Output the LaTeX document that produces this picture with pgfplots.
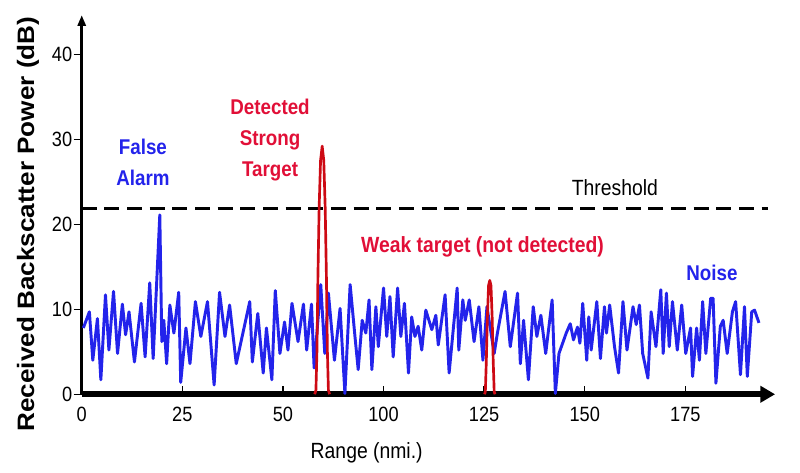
\documentclass[border=0pt]{standalone}
\usepackage{fontspec}
\setmainfont{Liberation Sans}[FakeStretch=0.88]
\newfontfamily\widefont{Liberation Sans}[FakeStretch=1.1]
\usepackage{pgfplots}
\pgfplotsset{compat=1.18}
\usetikzlibrary{arrows.meta}

\definecolor{noiseblue}{RGB}{35,35,235}
\definecolor{targetred}{RGB}{205,10,20}
\definecolor{textred}{RGB}{225,15,55}

\begin{document}
\begin{tikzpicture}
\begin{axis}[
    x=3.018pt, y=6.375pt,
    xmin=0, xmax=172.3,
    ymin=0, ymax=44.6,
    axis x line=bottom,
    axis y line=left,
    clip=false,
    x axis line style={line width=4.5pt, -{Triangle[length=11pt,width=12pt]}},
    y axis line style={line width=2.3pt, -{Triangle[length=8pt,width=6pt]}},
    tick align=outside,
    major tick length=6pt,
    major y tick style={line width=1pt, black},
    major x tick style={line width=1pt, black, yshift=6pt},
    xtick={0,25,50,75,100,125,150},
    xticklabels={0,25,50,100,125,150,175},
    ytick={0,10,20,30,40},
    /pgf/number format/assume math mode=true,
    ticklabel style={font=\fontsize{15.5}{18}\selectfont},
    yticklabel style={inner xsep=1pt},
    xlabel={Range (nmi.)},
    ylabel={Received Backscatter Power (dB)},
    every axis x label/.style={at={(axis description cs:0.411,-0.155)}, anchor=center,
      font=\fontsize{16.5}{20}\selectfont},
    every axis y label/.style={at={(axis description cs:-0.0775,0.449)}, anchor=center, rotate=90,
      font=\widefont\fontsize{17.8}{20}\selectfont\bfseries},
  ]
  % noise
  \addplot[noiseblue, line width=2.2pt, line join=round] coordinates {
    (0.4,7.8) (1.9,9.7) (2.75,4.0) (3.9,8.9) (4.75,1.7) (5.9,11.7) (6.75,5.2)
    (7.9,12.1) (8.9,4.8) (10.1,10.6) (10.9,7.0) (11.75,9.7) (13.1,3.8)
    (14.75,10.7) (15.75,4.4) (16.9,13.1) (17.75,4.2) (19.4,21.1) (19.9,6.2)
    (20.4,8.7) (21.1,3.6) (21.9,10.5) (22.9,7.2) (24.1,12.0) (24.6,1.4)
    (25.9,7.8) (26.9,3.6) (28.25,10.9) (29.6,6.8) (31.25,10.9) (32.9,1.1)
    (34.25,12.0) (35.6,6.8) (36.75,10.5) (38.4,3.6) (41.75,10.9) (42.4,3.8)
    (43.75,9.5) (45.1,2.5) (45.9,7.8) (47.25,1.7) (48.1,12.2) (49.25,4.8)
    (50.4,8.5) (51.25,5.2) (52.25,10.7) (53.75,6.2) (55.1,10.6) (55.9,5.2)
    (57.1,10.6) (57.75,3.1) (59.4,12.9) (60.4,4.8) (61.3,11.9) (62.8,4.0)
    (64.2,10.1) (65.4,0.1) (66.7,12.9) (67.9,6.8) (68.7,2.9) (69.7,8.7)
    (70.6,7.2) (71.4,11.1) (72.1,2.9) (73.1,10.3) (73.7,5.6) (75.0,12.5)
    (75.8,6.8) (76.6,11.5) (77.4,4.4) (78.5,12.5) (79.3,6.8) (80.2,10.7)
    (81.2,2.5) (82.0,9.1) (82.8,6.8) (83.6,8.0) (84.5,5.2) (85.5,9.9)
    (87.0,7.6) (88.0,9.3) (88.6,5.8) (90.3,11.7) (91.3,2.5) (93.3,12.5)
    (93.7,5.2) (94.7,11.1) (95.3,8.7) (96.3,11.1) (97.5,6.2) (98.7,10.3)
    (99.7,4.0) (100.7,10.3) (102.5,4.8) (103.3,7.2) (105.2,12.1) (106.5,5.6)
    (108.3,11.9) (109.0,3.6) (109.8,8.7) (111.0,1.7) (112.2,10.3) (113.1,6.8)
    (114.1,9.3) (115.3,4.8) (116.9,11.1) (117.7,0.1) (118.6,4.8) (120.4,7.2)
    (121.4,8.3) (122.2,6.4) (123.2,7.9) (123.8,6.0) (124.5,10.7) (125.5,4.0)
    (126.0,9.1) (126.6,5.2) (128.0,10.9) (128.9,4.2) (129.9,10.3) (130.4,7.2)
    (131.2,10.5) (132.4,5.6) (133.4,2.5) (134.5,10.9) (135.5,5.2) (137.0,10.3)
    (137.8,8.2) (138.6,10.5) (139.4,4.8) (140.7,1.9) (141.5,9.7) (142.7,5.6)
    (143.9,12.3) (144.5,4.8) (145.3,11.9) (146.0,5.6) (146.8,10.9) (148.0,5.2)
    (149.1,10.5) (150.1,4.8) (151.3,7.8) (151.8,2.1) (152.8,7.8) (153.5,4.0)
    (154.3,10.9) (155.1,4.8) (156.3,11.3) (156.9,11.3) (157.6,1.3) (158.7,8.0)
    (159.4,8.7) (160.4,4.8) (161.7,9.7) (162.5,10.9) (163.7,2.3) (164.7,10.3)
    (165.4,2.1) (166.5,9.7) (167.2,9.9) (168.3,8.4)
  };
  % threshold
  \addplot[black, line width=2.2pt, dash pattern=on 11.3pt off 5.7pt] coordinates {
    (0,21.9) (170.6,21.9)
  };
  % strong target
  \addplot[targetred, line width=2pt, line join=round] coordinates {
    (57.9,0) (58.2,0.5) (58.45,5) (58.7,14) (59.0,22) (59.35,27.5) (59.75,29.2)
    (60.15,27.5) (60.5,22) (60.8,14) (61.05,5) (61.3,0.5) (61.6,0)
  };
  % weak target
  \addplot[targetred, line width=2pt, line join=round] coordinates {
    (100.1,0) (100.3,0.3) (100.55,4) (100.8,9) (101.1,12.8) (101.4,13.4)
    (101.7,12.8) (102.0,9) (102.25,4) (102.5,0.3) (102.7,0)
  };
  \coordinate (O) at (axis cs:0,0);
  % annotations
  \node[noiseblue, align=center, font=\fontsize{16}{23.25}\selectfont\bfseries]
    at (axis cs:15.2,27.3) {False\\Alarm};
  \node[textred, align=center, font=\fontsize{16}{23.25}\selectfont\bfseries]
    at (axis cs:46.8,29.9) {Detected\\Strong\\Target};
  \node[black, font=\fontsize{16.5}{20}\selectfont]
    at (axis cs:132.5,24.3) {Threshold};
  \node[textred, font=\fontsize{16.5}{20}\selectfont\bfseries]
    at (axis cs:99.6,17.3) {Weak target (not detected)};
  \node[noiseblue, font=\fontsize{16}{20}\selectfont\bfseries]
    at (axis cs:156.6,14.3) {Noise};
\end{axis}
\pgfresetboundingbox
\path (O) ++(-61.3pt,-58.3pt) rectangle ++(600pt,354pt);
\end{tikzpicture}
\end{document}
